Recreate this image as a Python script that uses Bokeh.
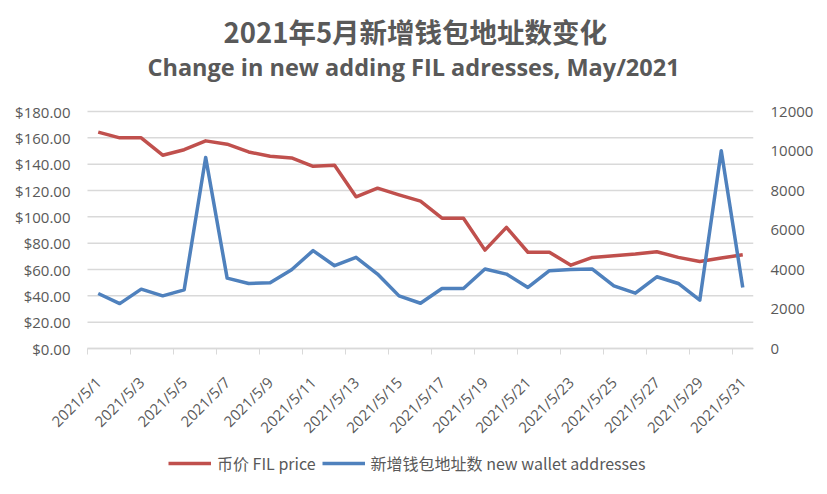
from bokeh.plotting import figure
from bokeh.models import (Range1d, LinearAxis, FixedTicker, NumeralTickFormatter,
                          Title, Legend, LegendItem, ColumnDataSource)
from bokeh.embed import file_html
from bokeh.resources import INLINE
import math

dates = ["2021/5/1", "2021/5/2", "2021/5/3", "2021/5/4", "2021/5/5", "2021/5/6",
         "2021/5/7", "2021/5/8", "2021/5/9", "2021/5/10", "2021/5/11", "2021/5/12",
         "2021/5/13", "2021/5/14", "2021/5/15", "2021/5/16", "2021/5/17", "2021/5/18",
         "2021/5/19", "2021/5/20", "2021/5/21", "2021/5/22", "2021/5/23", "2021/5/24",
         "2021/5/25", "2021/5/26", "2021/5/27", "2021/5/28", "2021/5/29", "2021/5/30",
         "2021/5/31"]
price = [164.3, 160.0, 160.0, 146.8, 151.0, 157.7, 155.2, 149.3, 146.0, 144.7,
         138.4, 139.1, 115.2, 121.8, 116.7, 111.9, 99.0, 99.0, 74.7, 92.0,
         73.1, 73.1, 63.3, 69.2, 70.4, 71.7, 73.5, 69.2, 66.1, 68.7, 71.2]
wallets = [2783, 2274, 3004, 2665, 2970, 9675, 3564, 3292, 3326, 3988,
           4956, 4192, 4617, 3768, 2665, 2291, 3038, 3038, 4022, 3768,
           3089, 3937, 4005, 4022, 3173, 2800, 3632, 3292, 2444, 10012, 3089]
left_ticks = [0, 20, 40, 60, 80, 100, 120, 140, 160, 180]
right_ticks = [0, 2000, 4000, 6000, 8000, 10000, 12000]
title_cn = "2021年5月新增钱包地址数变化"
title_en = "Change in new adding FIL adresses, May/2021"
legend_price = "币价 FIL price"
legend_wallet = "新增钱包地址数 new wallet addresses"

RED = "#C0504D"
BLUE = "#4F81BD"
TXT = "#595959"
GRID = "#D9D9D9"
FONT = "Open Sans"

# layout in pixels: the frame also holds the axis labels and the legend
PLOT_W = 666      # width of the value area
PLOT_H = 237      # height of the value area
LEFT_PAD = 87     # room left of the value area (left axis labels)
TOP_PAD = 12      # room above the top gridline
BELOW_H = 130     # room below the zero line (date labels, legend)
LEFT_MAX = left_ticks[-1]
RIGHT_MAX = right_ticks[-1]

n = len(dates)
xs = list(range(1, n + 1))
src = ColumnDataSource(dict(x=xs, price=price, wallets=wallets))
x_lo, x_hi = 0.5, n + 0.5
day_px = PLOT_W / n


def y_span(vmax):
    return Range1d(-vmax * BELOW_H / PLOT_H, vmax + vmax * TOP_PAD / PLOT_H)


p = figure(frame_width=PLOT_W + LEFT_PAD, frame_height=PLOT_H + BELOW_H + TOP_PAD,
           output_backend="svg", toolbar_location=None,
           x_range=Range1d(x_lo - LEFT_PAD / day_px, x_hi),
           y_range=y_span(LEFT_MAX),
           min_border_left=0, min_border_right=58, min_border_top=99,
           min_border_bottom=0, background_fill_color="white",
           border_fill_color="white")
p.outline_line_color = None
p.extra_y_ranges = {"wallet": y_span(RIGHT_MAX)}

# titles (spacer, English, Chinese: stacked outward from the plot)
p.add_layout(Title(text=" ", text_font=FONT, text_font_size="10px",
                   standoff=1), "above")
p.add_layout(Title(text=title_en, align="left", offset=147, text_font=FONT,
                   text_font_size="23.5px", text_font_style="bold",
                   text_color=TXT, standoff=0), "above")
p.add_layout(Title(text=title_cn, align="left", offset=223,
                   text_font="Noto Sans CJK SC", text_font_size="27.5px",
                   text_font_style="bold", text_color=TXT, standoff=-5), "above")

# horizontal gridlines over the value area only
p.segment(x0=[x_lo] * len(left_ticks), x1=[x_hi] * len(left_ticks),
          y0=left_ticks, y1=left_ticks, line_color=GRID, line_width=1.5)
p.xgrid.grid_line_color = None
p.ygrid.grid_line_color = None

# x axis, pinned to the zero line
xax = p.xaxis[0]
xax.fixed_location = 0
xax.bounds = (x_lo, x_hi)
odd = [i for i in xs if i % 2 == 1]
xax.ticker = FixedTicker(ticks=odd, minor_ticks=[i + 0.5 for i in range(0, n, 2)])
xax.major_label_overrides = {i: dates[i - 1] for i in odd}
xax.major_label_orientation = math.pi / 4
xax.major_tick_line_color = None
xax.major_tick_out = 0
xax.major_tick_in = 0
xax.minor_tick_line_color = GRID
xax.minor_tick_out = 6
xax.minor_tick_in = 0
xax.axis_line_color = GRID
xax.axis_line_width = 1.5
xax.major_label_text_font = FONT
xax.major_label_text_font_size = "15px"
xax.major_label_text_color = TXT
xax.major_label_standoff = 25

# left axis, pinned to the left edge of the value area
yax = p.yaxis[0]
yax.fixed_location = x_lo
yax.ticker = FixedTicker(ticks=left_ticks)
yax.formatter = NumeralTickFormatter(format="$0.00")
yax.axis_line_color = None
yax.major_tick_line_color = None
yax.minor_tick_line_color = None
yax.major_label_text_font = FONT
yax.major_label_text_font_size = "15px"
yax.major_label_text_color = TXT
yax.major_label_standoff = 11

# right axis
rax = LinearAxis(y_range_name="wallet", ticker=FixedTicker(ticks=right_ticks))
rax.axis_line_color = None
rax.major_tick_line_color = None
rax.minor_tick_line_color = None
rax.major_label_text_font = FONT
rax.major_label_text_font_size = "15px"
rax.major_label_text_color = TXT
rax.major_label_standoff = 11
p.add_layout(rax, "right")

r1 = p.line("x", "price", source=src, line_color=RED, line_width=3.5,
            line_join="round")
r2 = p.line("x", "wallets", source=src, y_range_name="wallet", line_color=BLUE,
            line_width=3.5, line_join="round")

legend = Legend(items=[LegendItem(label=legend_price, renderers=[r1]),
                       LegendItem(label=legend_wallet, renderers=[r2])],
                orientation="horizontal", location=(168, 3),
                label_text_font="Noto Sans CJK SC", label_text_font_size="16px",
                label_text_color=TXT, glyph_width=43, glyph_height=20,
                spacing=6, label_standoff=6, border_line_color=None,
                background_fill_alpha=0, margin=0, padding=2)
p.add_layout(legend, "center")

open("out.html", "w").write(file_html(p, INLINE))
